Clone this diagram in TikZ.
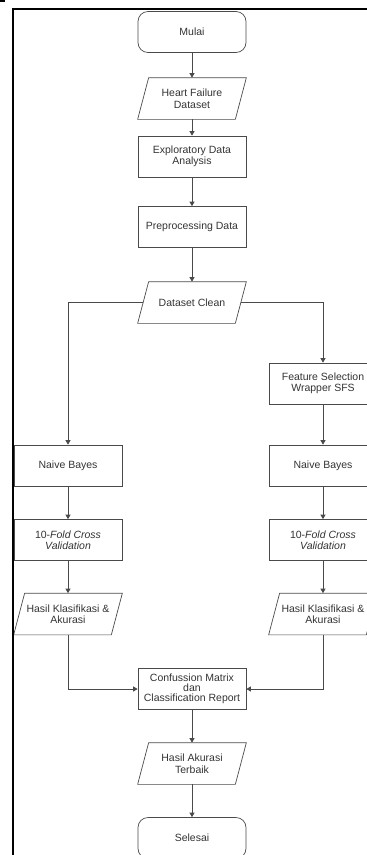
\documentclass[tikz,border=0pt]{standalone}
\usepackage{fontspec}
\setmainfont{Liberation Sans}
\usetikzlibrary{arrows.meta}

\definecolor{linegray}{HTML}{4A4A4A}
\definecolor{textgray}{HTML}{333333}

\tikzset{
    process/.style={rectangle, draw=linegray, line width=0.7pt,
        minimum width=108pt, minimum height=41pt, inner xsep=1pt, inner ysep=1pt,
        align=center, text=textgray, font=\fontsize{10.5}{11.5}\selectfont},
    terminal/.style={process, rounded corners=10pt},
    flowarrow/.style={draw=linegray, line width=0.8pt, -{Triangle[length=4.5pt,width=5pt]}}
}

\newcommand\DataBox[4]{% name, x, y, text
    % Invisible frame that carries the text
    \node[process, draw=none] (#1) at (#2,#3) {#4};%
    % Slanted outline of the input/output box
    \draw[linegray, line width=0.7pt] ([xshift=11pt]#1.north west) -- (#1.north east)
        -- ([xshift=-11pt]#1.south east) -- (#1.south west) -- cycle;%
}

\begin{document}
\begin{tikzpicture}[x=1pt, y=-1pt]
    \useasboundingbox (0,0) rectangle (367,855);

    % Main column
    \node[terminal] (mulai) at (192,32) {Mulai};
    \DataBox{hfd}{192}{98.5}{Heart Failure\\Dataset}
    \node[process] (eda) at (192,156.5) {Exploratory Data\\Analysis};
    \node[process] (pre) at (192,227) {Preprocessing Data};
    \DataBox{clean}{192}{302.5}{Dataset Clean}
    \node[process] (fs) at (323,383.5) {Feature Selection\\Wrapper SFS};

    \draw[flowarrow] (mulai) -- (hfd);
    \draw[flowarrow] (hfd) -- (eda);
    \draw[flowarrow] (eda) -- (pre);
    \draw[flowarrow] (pre) -- (clean);

    % Two classification branches
    \foreach \side/\xc in {L/68,R/323} {
        \node[process] (nb\side) at (\xc,465.5) {Naive Bayes};
        \node[process] (kf\side) at (\xc,540) {10-\textit{Fold Cross}\\\textit{Validation}};
        \DataBox{hk\side}{\xc}{614}{Hasil Klasifikasi \&\\Akurasi}
        \draw[flowarrow] (nb\side) -- (kf\side);
        \draw[flowarrow] (kf\side) -- (hk\side);
    }

    \draw[flowarrow] ([xshift=5.5pt]clean.west) -| (nbL.north);
    \draw[flowarrow] ([xshift=-5.5pt]clean.east) -| (fs.north);
    \draw[flowarrow] (fs) -- (nbR);

    % Merge and result
    \node[process, font=\fontsize{10.5}{10}\selectfont] (cm) at (192,689)
        {Confussion Matrix\\dan\\Classification Report};
    \DataBox{best}{192}{763.5}{Hasil Akurasi\\Terbaik}
    \node[terminal] (selesai) at (192,838) {Selesai};

    \draw[flowarrow] (hkL.south) |- (cm.west);
    \draw[flowarrow] (hkR.south) |- (cm.east);
    \draw[flowarrow] (cm) -- (best);
    \draw[flowarrow] (best) -- (selesai);

    % Screenshot frame
    \draw[line width=2.2pt] (13,855) -- (13,9) -- (367,9);
    \fill (0,0) rectangle (5,2);
\end{tikzpicture}
\end{document}
